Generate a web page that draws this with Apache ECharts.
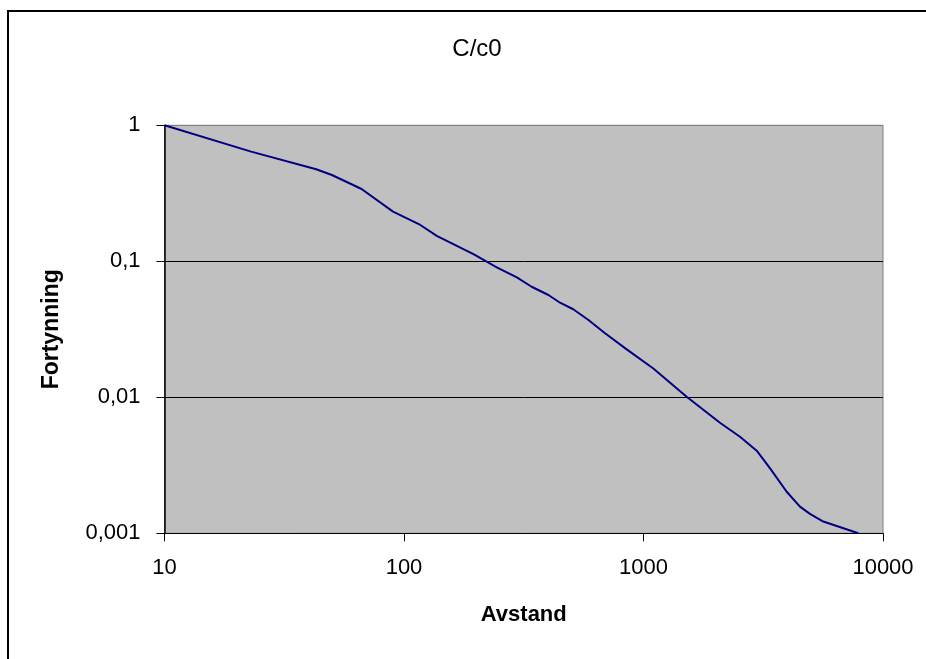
<!DOCTYPE html>
<html>
<head>
<meta charset="utf-8">
<title>C/c0</title>
<script src="https://cdn.jsdelivr.net/npm/echarts@6/dist/echarts.min.js"></script>
<style>
  html, body { margin: 0; padding: 0; background: #fff; }
  #chart { width: 926px; height: 659px; }
</style>
</head>
<body>
<div id="chart"></div>
<script>
// distance (Avstand) and dilution (Fortynning)
const distances = [10, 23, 43, 50, 66.5, 90, 117, 137, 195, 244, 296, 341, 401, 448, 509, 589, 691, 851, 1099, 1514, 2086, 2528, 2970, 3377, 3962, 4500, 4955, 5633, 7890];
const dilution = [1, 0.64, 0.475, 0.431, 0.34, 0.232, 0.185, 0.154, 0.113, 0.0903, 0.0762, 0.065, 0.0565, 0.0496, 0.0444, 0.037, 0.0296, 0.0225, 0.0163, 0.0101, 0.0065, 0.00513, 0.00405, 0.003, 0.00202, 0.00157, 0.00139, 0.00122, 0.001];
const yTickLabels = ['0,001', '0,01', '0,1', '1'];
const xTickLabels = ['10', '100', '1000', '10000'];

const chart = echarts.init(document.getElementById('chart'));
const font = 'Liberation Sans, Arial, sans-serif';

const option = {
  animation: false,
  backgroundColor: '#ffffff',
  title: {
    text: 'C/c0',
    left: 472,
    top: 44,
    textAlign: 'center',
    textVerticalAlign: 'middle',
    textStyle: { fontFamily: font, fontSize: 24, fontWeight: 'normal', color: '#000' },
  },
  graphic: [
    {
      type: 'rect',
      shape: { x: 8, y: 11, width: 1000, height: 1000 },
      style: { fill: 'none', stroke: '#000', lineWidth: 2 },
      silent: true,
    },
  ],
  grid: {
    left: 164.5,
    top: 125.3,
    right: 43,
    bottom: 125.7,
    show: true,
    backgroundColor: '#c0c0c0',
    borderColor: '#808080',
    borderWidth: 1,
  },
  xAxis: {
    type: 'log',
    logBase: 10,
    min: 10,
    max: 10000,
    name: 'Avstand',
    nameLocation: 'middle',
    nameGap: 71,
    nameTextStyle: { fontFamily: font, fontSize: 22, fontWeight: 'bold', color: '#000' },
    axisLine: { show: true, onZero: false, lineStyle: { color: '#000', width: 1 } },
    axisTick: { show: true, inside: false, length: 8, lineStyle: { color: '#000' } },
    axisLabel: {
      fontFamily: font,
      fontSize: 22,
      color: '#000',
      margin: 24,
      formatter: (v) => xTickLabels[Math.round(Math.log10(v)) - 1],
    },
    splitLine: { show: false },
    minorTick: { show: false },
  },
  yAxis: {
    type: 'log',
    logBase: 10,
    min: 0.001,
    max: 1,
    name: 'Fortynning',
    nameLocation: 'middle',
    nameRotate: 90,
    nameGap: 101,
    nameTextStyle: { fontFamily: font, fontSize: 23, fontWeight: 'bold', color: '#000' },
    axisLine: { show: true, onZero: false, lineStyle: { color: '#000', width: 1.5 } },
    axisTick: { show: true, inside: false, length: 8, lineStyle: { color: '#000' } },
    axisLabel: {
      fontFamily: font,
      fontSize: 22,
      color: '#000',
      margin: 24,
      formatter: (v) => yTickLabels[Math.round(Math.log10(v)) + 3],
    },
    splitLine: { show: true, lineStyle: { color: ['#000', '#000', '#000', '#808080'], width: 1 } },
  },
  series: [
    {
      type: 'line',
      data: distances.map((d, i) => [d, dilution[i]]),
      showSymbol: false,
      smooth: false,
      lineStyle: { color: '#000080', width: 2 },
      itemStyle: { color: '#000080' },
    },
  ],
};

chart.setOption(option);
</script>
</body>
</html>
